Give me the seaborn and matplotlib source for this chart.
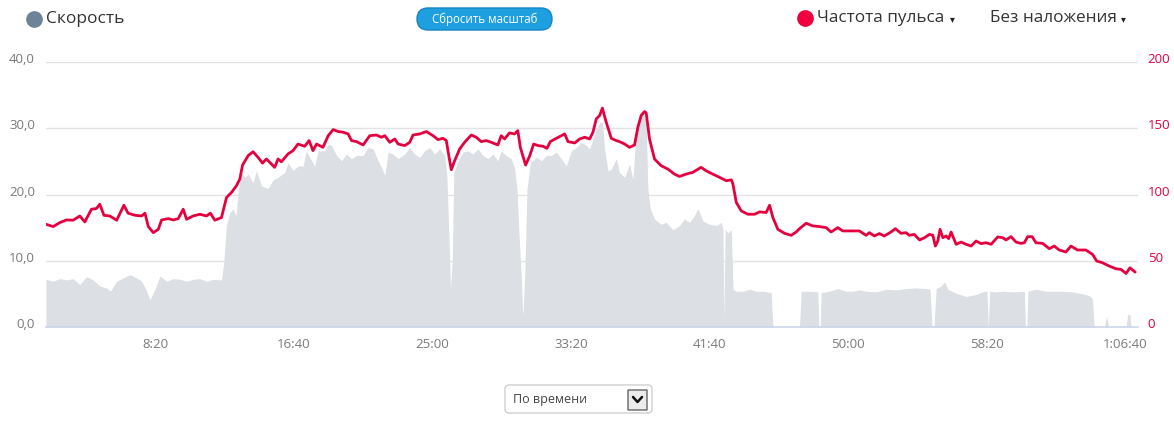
import matplotlib
matplotlib.use("Agg")
import matplotlib.pyplot as plt
import matplotlib.transforms as mtransforms
from matplotlib.lines import Line2D
from matplotlib.patches import FancyBboxPatch
from matplotlib.ticker import FixedLocator, FuncFormatter
import pandas as pd
import seaborn as sns

# ── Data (time in seconds) ────────────────────────────────────────────────────
hr_time = [
    107, 133, 157, 181, 205, 229, 247, 271, 289, 301, 316, 337, 362, 388, 403,
    428, 452, 464, 476, 494, 512, 524, 548, 566, 584, 602, 614, 638, 662, 686,
    700, 716, 740, 758, 776, 794, 806, 816, 836, 854, 872, 888, 902, 932, 944,
    956, 980, 998, 1016, 1040, 1056, 1070, 1083, 1106, 1125, 1143, 1161, 1179,
    1197, 1209, 1227, 1251, 1275, 1299, 1317, 1329, 1347, 1365, 1377, 1401,
    1419, 1431, 1455, 1479, 1503, 1521, 1539, 1551, 1561, 1569, 1581, 1599,
    1617, 1641, 1659, 1677, 1695, 1713, 1737, 1749, 1761, 1779, 1797, 1809,
    1818, 1837, 1852, 1866, 1882, 1900, 1914, 1926, 1948, 1978, 1990, 2014,
    2032, 2050, 2068, 2080, 2092, 2104, 2114, 2126, 2146, 2164, 2176, 2194,
    2212, 2230, 2242, 2254, 2266, 2272, 2284, 2302, 2326, 2350, 2374, 2392,
    2416, 2440, 2470, 2488, 2512, 2537, 2561, 2579, 2585, 2597, 2615, 2639,
    2663, 2681, 2705, 2717, 2729, 2747, 2771, 2795, 2813, 2825, 2849, 2873,
    2897, 2921, 2939, 2963, 2981, 3005, 3041, 3065, 3077, 3095, 3113, 3131,
    3155, 3171, 3191, 3209, 3221, 3239, 3258, 3276, 3294, 3306, 3315, 3324,
    3332, 3342, 3354, 3363, 3372, 3390, 3408, 3426, 3444, 3462, 3480, 3498,
    3516, 3540, 3558, 3570, 3588, 3606, 3624, 3636, 3648, 3664, 3678, 3702,
    3726, 3744, 3762, 3786, 3804, 3828, 3858, 3882, 3897, 3918, 3942, 3966,
    3985, 4003, 4017, 4036,
]
hr_bpm = [
    77.5, 75.8, 78.8, 80.8, 80.6, 83.8, 79.3, 88.9, 89.4, 92.7, 84.3, 83.8,
    80.6, 91.9, 85.9, 84.3, 83.8, 85.9, 75.8, 71.2, 73.7, 80.8, 81.8, 80.8,
    81.8, 88.9, 81.3, 83.8, 85.1, 83.8, 85.9, 80.6, 82.6, 97.7, 101.5, 106.6,
    111.6, 122.2, 129.3, 132.3, 128.0, 123.7, 126.8, 120.5, 126.8, 124.7,
    130.6, 133.1, 138.1, 136.4, 140.7, 133.1, 138.1, 135.6, 144.4, 149.0,
    147.5, 147.0, 145.7, 140.7, 139.9, 137.4, 144.4, 144.9, 143.2, 144.4,
    139.4, 141.9, 138.1, 136.9, 139.4, 144.9, 145.7, 147.5, 144.4, 141.4,
    142.4, 140.7, 128.0, 118.7, 125.5, 134.3, 139.4, 144.9, 143.2, 139.9,
    140.7, 139.4, 137.4, 144.4, 141.9, 146.5, 145.7, 148.2, 135.6, 122.2,
    129.3, 138.1, 136.9, 136.4, 134.8, 139.9, 142.4, 145.7, 139.9, 138.9,
    141.9, 143.2, 141.9, 147.0, 157.1, 159.6, 165.2, 155.8, 142.4, 140.7,
    139.9, 138.1, 135.6, 137.4, 150.8, 159.6, 162.6, 161.6, 141.9, 126.8,
    121.7, 119.2, 115.4, 113.6, 115.4, 116.7, 120.5, 117.9, 115.4, 112.9,
    110.4, 111.1, 107.8, 94.0, 87.6, 85.1, 85.1, 86.9, 86.4, 91.9, 82.6,
    73.7, 70.7, 69.2, 71.7, 74.2, 78.3, 76.3, 75.8, 75.0, 71.7, 75.0, 72.5,
    72.5, 72.5, 69.2, 71.2, 68.7, 70.5, 68.7, 71.7, 74.2, 70.7, 71.2, 69.2,
    69.9, 65.7, 67.4, 69.9, 69.2, 61.1, 64.9, 73.7, 67.4, 68.7, 66.7, 71.7,
    62.4, 64.1, 62.4, 61.1, 64.9, 62.9, 63.6, 62.4, 68.0, 67.4, 65.7, 68.2,
    64.1, 63.1, 63.6, 68.2, 68.2, 63.6, 63.1, 59.1, 61.1, 58.1, 56.6, 61.1,
    58.1, 58.1, 54.8, 49.8, 48.5, 46.0, 44.0, 43.4, 40.4, 44.7, 41.4,
]

speed_time = [
    107, 133, 157, 181, 205, 229, 253, 277, 301, 325, 340, 361, 385, 410, 434,
    452, 467, 482, 500, 518, 542, 566, 590, 614, 638, 662, 686, 710, 740, 748,
    758, 770, 782, 792, 801, 812, 824, 836, 854, 866, 884, 908, 926, 944, 968,
    980, 998, 1016, 1034, 1046, 1058, 1076, 1089, 1112, 1125, 1137, 1155, 1173,
    1191, 1209, 1227, 1251, 1269, 1287, 1305, 1317, 1329, 1341, 1359, 1377,
    1401, 1419, 1437, 1455, 1473, 1491, 1509, 1527, 1545, 1553, 1561, 1566,
    1573, 1578, 1593, 1611, 1629, 1647, 1665, 1683, 1701, 1719, 1737, 1749,
    1767, 1785, 1797, 1806, 1813, 1821, 1827, 1834, 1842, 1854, 1876, 1894,
    1912, 1930, 1948, 1966, 1984, 2002, 2020, 2038, 2056, 2068, 2080, 2092,
    2104, 2114, 2122, 2134, 2146, 2164, 2176, 2194, 2212, 2224, 2234, 2248,
    2260, 2272, 2278, 2287, 2302, 2326, 2344, 2368, 2392, 2410, 2428, 2446,
    2458, 2477, 2500, 2525, 2543, 2549, 2552, 2557, 2567, 2579, 2585, 2597,
    2621, 2645, 2669, 2693, 2723, 2729, 2825, 2831, 2861, 2891, 2895, 2900,
    2903, 2933, 2963, 2993, 3017, 3041, 3065, 3101, 3137, 3173, 3209, 3245,
    3281, 3296, 3303, 3310, 3318, 3336, 3348, 3360, 3390, 3426, 3462, 3492,
    3501, 3506, 3511, 3534, 3558, 3594, 3636, 3640, 3645, 3649, 3678, 3714,
    3762, 3810, 3858, 3876, 3882, 3888, 3924, 3933, 3940, 4003, 4009, 4017,
    4021, 4036,
]
speed_kmh = [
    7.2, 6.9, 7.3, 7.1, 7.3, 6.4, 7.6, 7.1, 6.2, 5.9, 5.4, 6.9, 7.4, 7.9, 7.4,
    6.9, 5.7, 4.1, 5.7, 7.7, 6.9, 7.3, 7.2, 6.9, 7.2, 7.3, 6.9, 7.2, 7.1, 9.7,
    15.3, 17.3, 17.8, 16.8, 20.8, 23.4, 22.6, 23.1, 21.8, 23.6, 21.3, 20.9,
    22.2, 22.6, 23.3, 24.8, 23.6, 24.3, 24.3, 26.6, 25.6, 24.3, 26.6, 26.6,
    27.6, 27.4, 25.9, 25.1, 26.1, 25.4, 25.9, 25.9, 27.1, 26.9, 25.1, 24.1,
    22.9, 26.4, 26.1, 25.4, 26.1, 27.1, 26.1, 25.6, 26.6, 27.1, 26.1, 26.9,
    25.9, 22.8, 13.2, 5.6, 10.7, 23.3, 25.1, 26.4, 26.6, 26.1, 26.9, 25.9,
    25.4, 26.1, 25.1, 26.6, 25.9, 25.4, 24.1, 20.8, 14.2, 7.7, 1.6, 7.7,
    20.8, 24.8, 25.6, 25.1, 25.9, 25.9, 26.4, 25.4, 24.3, 26.6, 27.1, 27.9,
    27.4, 26.9, 28.4, 29.9, 30.9, 30.9, 26.9, 23.6, 23.8, 25.4, 23.3, 22.6,
    24.6, 22.3, 28.4, 32.4, 32.7, 30.9, 20.8, 17.8, 16.3, 15.5, 15.8, 14.7,
    15.3, 16.3, 15.8, 16.8, 17.9, 16.0, 15.5, 15.3, 15.8, 14.7, 1.1, 14.7,
    14.2, 14.7, 5.7, 5.4, 5.4, 5.7, 5.4, 5.4, 5.2, 0.0, 0.0, 5.4, 5.4, 5.3,
    0.0, 0.0, 5.2, 5.4, 5.8, 5.4, 5.4, 5.6, 5.4, 5.3, 5.7, 5.6, 5.8, 5.9,
    5.8, 5.7, 0.0, 0.0, 5.8, 6.2, 6.8, 5.7, 5.1, 4.6, 4.9, 5.4, 5.4, 0.0,
    5.4, 5.3, 5.4, 5.3, 5.4, 0.0, 0.0, 5.4, 5.7, 5.4, 5.4, 5.3, 4.9, 4.6,
    4.2, 0.0, 0.0, 1.6, 0.0, 0.0, 1.9, 1.9, 0.0, 0.0,
]

speed_ticks = [0, 10, 20, 30, 40]
hr_ticks = [0, 50, 100, 150, 200]
time_ticks = [500, 1000, 1500, 2000, 2500, 3000, 3500, 4000]

HR_COLOR = "#e5003e"
AREA_COLOR = "#dcdfe3"
GRID_COLOR = "#e3e3e3"
LABEL_GRAY = "#7a7a7a"
TEXT_DARK = "#333333"
FONT = ["Open Sans", "DejaVu Sans"]

sns.set_theme(style="white")
plt.rcParams["font.family"] = FONT

W, H, DPI = 1174, 422, 100


def fmt_time(t, _pos=None):
    t = int(round(t))
    h, rem = divmod(t, 3600)
    m, s = divmod(rem, 60)
    return f"{h}:{m:02d}:{s:02d}" if h else f"{m}:{s:02d}"


df_hr = pd.DataFrame({"t": hr_time, "hr": hr_bpm})
df_speed = pd.DataFrame({"t": speed_time, "speed": speed_kmh})

fig = plt.figure(figsize=(W / DPI, H / DPI), dpi=DPI)
ax = fig.add_axes([46 / W, 95 / H, 1092 / W, 265 / H])
ax2 = ax.twinx()

# speed area on the left axis, heart rate line on the right one
ax.fill_between(df_speed["t"], df_speed["speed"], 0, color=AREA_COLOR, lw=0)
sns.lineplot(data=df_speed, x="t", y="speed", ax=ax, lw=0, color=AREA_COLOR)
sns.lineplot(data=df_hr, x="t", y="hr", ax=ax2, color=HR_COLOR, lw=2.0)

ax.set_xlim(107, 4046)
ax.set_ylim(0, 40)
ax2.set_ylim(0, 200)

ax.yaxis.set_major_locator(FixedLocator(speed_ticks))
ax.yaxis.set_major_formatter(FuncFormatter(lambda v, p: f"{v:.1f}".replace(".", ",")))
ax2.yaxis.set_major_locator(FixedLocator(hr_ticks))
ax.xaxis.set_major_locator(FixedLocator(time_ticks))
ax.xaxis.set_major_formatter(FuncFormatter(fmt_time))

for a in (ax, ax2):
    for sp in a.spines.values():
        sp.set_visible(False)
    a.set_xlabel("")
    a.set_ylabel("")
ax.spines["bottom"].set_visible(True)
ax.spines["bottom"].set_color("#ccd6eb")
ax.spines["bottom"].set_linewidth(1.2)

ax.grid(axis="y", color=GRID_COLOR, lw=1.0)
ax.grid(axis="x", visible=False)
ax.set_axisbelow(True)

ax.tick_params(axis="y", length=0, pad=8, labelsize=9.5, labelcolor=LABEL_GRAY)
ax2.tick_params(axis="y", length=0, pad=7, labelsize=9.5, labelcolor=HR_COLOR)
ax.tick_params(axis="x", length=0, pad=8, labelsize=9.5, labelcolor=LABEL_GRAY)

up = mtransforms.ScaledTranslation(0, 4 / DPI, fig.dpi_scale_trans)
for lab in ax.get_yticklabels() + ax2.get_yticklabels():
    lab.set_transform(lab.get_transform() + up)


# ── Header & footer widgets, placed in pixel coordinates (top-left origin) ────
def fx(px):
    return px / W


def fy(py):
    return 1 - py / H


PIX = mtransforms.IdentityTransform()


def pixel_box(x0, y0, x1, y1, radius, **kw):
    patch = FancyBboxPatch((x0, H - y1), x1 - x0, y1 - y0,
                           boxstyle=f"round,pad=0,rounding_size={radius}",
                           transform=PIX, **kw)
    fig.add_artist(patch)


fig.add_artist(Line2D([fx(34)], [fy(19)], marker="o", ms=11, color="#6e8397",
                      transform=fig.transFigure))
fig.text(fx(46), fy(19), "Скорость", fontsize=12.5, color=TEXT_DARK,
         va="center", ha="left")

pixel_box(417, 8, 552, 30, 11, facecolor="#1e9fe0", edgecolor="#1585c2", lw=1.0)
fig.text(fx(484.5), fy(19), "Сбросить масштаб", fontsize=8.3, color="white",
         ha="center", va="center")

fig.add_artist(Line2D([fx(805)], [fy(18)], marker="o", ms=11, color="#f0003c",
                      transform=fig.transFigure))
fig.text(fx(817), fy(18), "Частота пульса", fontsize=12.3, color=TEXT_DARK,
         va="center", ha="left")
fig.text(fx(950), fy(19), "▾", fontsize=7, color="#222222",
         va="center", ha="left", family=["DejaVu Sans"])
fig.text(fx(990), fy(18), "Без наложения", fontsize=12.3, color=TEXT_DARK,
         va="center", ha="left")
fig.text(fx(1121), fy(19), "▾", fontsize=7, color="#222222",
         va="center", ha="left", family=["DejaVu Sans"])

pixel_box(505, 385, 652, 413, 4, facecolor="white", edgecolor="#cfcfcf", lw=1.0)
fig.text(fx(513), fy(399), "По времени", fontsize=9, color="#444444",
         va="center", ha="left")
pixel_box(628, 390, 647, 410, 0, facecolor="#ececec", edgecolor="#555555", lw=0.9)
fig.add_artist(Line2D([fx(633), fx(637.5), fx(642)], [fy(397), fy(402), fy(397)],
                      color="#111111", lw=1.8, transform=fig.transFigure))

fig.savefig("out.png", dpi=DPI)
